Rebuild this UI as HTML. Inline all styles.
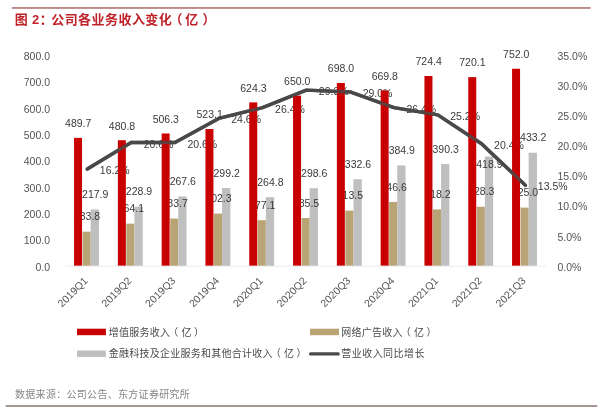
<!DOCTYPE html>
<html lang="zh"><head><meta charset="utf-8"><title>图 2：公司各业务收入变化（亿）</title>
<style>
html,body{margin:0;padding:0;background:#fff;}
body{width:600px;height:413px;overflow:hidden;}
svg{display:block;}
svg text{font-family:"Liberation Sans","Noto Sans CJK SC",sans-serif;}
</style></head><body>
<svg width="600" height="413" viewBox="0 0 600 413">
<rect width="600" height="413" fill="#ffffff"/>
<defs><filter id="soft" x="0" y="0" width="600" height="413" filterUnits="userSpaceOnUse"><feGaussianBlur stdDeviation="0.4"/></filter></defs>
<g filter="url(#soft)">
<rect width="600" height="413" fill="#ffffff"/>
<rect x="11.8" y="7.1" width="578.8" height="1.7" fill="#b47c7c"/>
<rect x="5.6" y="405.1" width="591.6" height="1.8" fill="#a08a86"/>
<text y="24.2" font-size="13" letter-spacing="0.33" font-weight="bold" fill="#c0242c"><tspan x="14.8">图 2：</tspan><tspan x="51.2" letter-spacing="0.45">公司各业务收入变化</tspan><tspan x="169.5">（</tspan><tspan x="185.3">亿</tspan><tspan x="202.5">）</tspan></text>
<text x="50" y="270.70" text-anchor="end" font-size="10.5" fill="#545454">0.0</text>
<text x="50" y="244.35" text-anchor="end" font-size="10.5" fill="#545454">100.0</text>
<text x="50" y="218.00" text-anchor="end" font-size="10.5" fill="#545454">200.0</text>
<text x="50" y="191.65" text-anchor="end" font-size="10.5" fill="#545454">300.0</text>
<text x="50" y="165.30" text-anchor="end" font-size="10.5" fill="#545454">400.0</text>
<text x="50" y="138.95" text-anchor="end" font-size="10.5" fill="#545454">500.0</text>
<text x="50" y="112.60" text-anchor="end" font-size="10.5" fill="#545454">600.0</text>
<text x="50" y="86.25" text-anchor="end" font-size="10.5" fill="#545454">700.0</text>
<text x="50" y="59.90" text-anchor="end" font-size="10.5" fill="#545454">800.0</text>
<text x="557.5" y="270.70" font-size="10.5" fill="#545454">0.0%</text>
<text x="557.5" y="240.58" font-size="10.5" fill="#545454">5.0%</text>
<text x="557.5" y="210.47" font-size="10.5" fill="#545454">10.0%</text>
<text x="557.5" y="180.35" font-size="10.5" fill="#545454">15.0%</text>
<text x="557.5" y="150.24" font-size="10.5" fill="#545454">20.0%</text>
<text x="557.5" y="120.12" font-size="10.5" fill="#545454">25.0%</text>
<text x="557.5" y="90.01" font-size="10.5" fill="#545454">30.0%</text>
<text x="557.5" y="59.89" font-size="10.5" fill="#545454">35.0%</text>
<rect x="82.55" y="231.64" width="8.1" height="35.26" fill="#b9a475"/>
<rect x="90.65" y="209.48" width="8.3" height="57.42" fill="#bfbfbf"/>
<rect x="126.35" y="223.66" width="8.1" height="43.24" fill="#b9a475"/>
<rect x="134.45" y="206.58" width="8.3" height="60.32" fill="#bfbfbf"/>
<rect x="170.15" y="218.50" width="8.1" height="48.40" fill="#b9a475"/>
<rect x="178.25" y="196.39" width="8.3" height="70.51" fill="#bfbfbf"/>
<rect x="213.95" y="213.59" width="8.1" height="53.31" fill="#b9a475"/>
<rect x="222.05" y="188.06" width="8.3" height="78.84" fill="#bfbfbf"/>
<rect x="257.75" y="220.23" width="8.1" height="46.67" fill="#b9a475"/>
<rect x="265.85" y="197.13" width="8.3" height="69.77" fill="#bfbfbf"/>
<rect x="301.55" y="218.02" width="8.1" height="48.88" fill="#b9a475"/>
<rect x="309.65" y="188.22" width="8.3" height="78.68" fill="#bfbfbf"/>
<rect x="345.35" y="210.64" width="8.1" height="56.26" fill="#b9a475"/>
<rect x="353.45" y="179.26" width="8.3" height="87.64" fill="#bfbfbf"/>
<rect x="389.15" y="201.92" width="8.1" height="64.98" fill="#b9a475"/>
<rect x="397.25" y="165.48" width="8.3" height="101.42" fill="#bfbfbf"/>
<rect x="432.95" y="209.40" width="8.1" height="57.50" fill="#b9a475"/>
<rect x="441.05" y="164.06" width="8.3" height="102.84" fill="#bfbfbf"/>
<rect x="476.75" y="206.74" width="8.1" height="60.16" fill="#b9a475"/>
<rect x="484.85" y="156.52" width="8.3" height="110.38" fill="#bfbfbf"/>
<rect x="520.55" y="207.61" width="8.1" height="59.29" fill="#b9a475"/>
<rect x="528.65" y="152.75" width="8.3" height="114.15" fill="#bfbfbf"/>
<text x="87.05" y="220.24" text-anchor="middle" font-size="10.5" fill="#3a3a3a">133.8</text>
<text x="95.20" y="198.08" text-anchor="middle" font-size="10.5" fill="#3a3a3a">217.9</text>
<text x="130.85" y="212.26" text-anchor="middle" font-size="10.5" fill="#3a3a3a">164.1</text>
<text x="139.00" y="195.18" text-anchor="middle" font-size="10.5" fill="#3a3a3a">228.9</text>
<text x="174.65" y="207.10" text-anchor="middle" font-size="10.5" fill="#3a3a3a">183.7</text>
<text x="182.80" y="184.99" text-anchor="middle" font-size="10.5" fill="#3a3a3a">267.6</text>
<text x="218.45" y="202.19" text-anchor="middle" font-size="10.5" fill="#3a3a3a">202.3</text>
<text x="226.60" y="176.66" text-anchor="middle" font-size="10.5" fill="#3a3a3a">299.2</text>
<text x="262.25" y="208.83" text-anchor="middle" font-size="10.5" fill="#3a3a3a">177.1</text>
<text x="270.40" y="185.73" text-anchor="middle" font-size="10.5" fill="#3a3a3a">264.8</text>
<text x="306.05" y="206.62" text-anchor="middle" font-size="10.5" fill="#3a3a3a">185.5</text>
<text x="314.20" y="176.82" text-anchor="middle" font-size="10.5" fill="#3a3a3a">298.6</text>
<text x="349.85" y="199.24" text-anchor="middle" font-size="10.5" fill="#3a3a3a">213.5</text>
<text x="358.00" y="167.86" text-anchor="middle" font-size="10.5" fill="#3a3a3a">332.6</text>
<text x="393.65" y="190.52" text-anchor="middle" font-size="10.5" fill="#3a3a3a">246.6</text>
<text x="401.80" y="154.08" text-anchor="middle" font-size="10.5" fill="#3a3a3a">384.9</text>
<text x="437.45" y="198.00" text-anchor="middle" font-size="10.5" fill="#3a3a3a">218.2</text>
<text x="445.60" y="152.66" text-anchor="middle" font-size="10.5" fill="#3a3a3a">390.3</text>
<text x="481.25" y="195.34" text-anchor="middle" font-size="10.5" fill="#3a3a3a">228.3</text>
<text x="489.40" y="167.60" text-anchor="middle" font-size="10.5" fill="#3a3a3a">418.9</text>
<text x="525.05" y="196.21" text-anchor="middle" font-size="10.5" fill="#3a3a3a">225.0</text>
<text x="533.20" y="141.35" text-anchor="middle" font-size="10.5" fill="#3a3a3a">433.2</text>
<text x="99.85" y="174.03" font-size="10.5" fill="#3a3a3a">16.2%</text>
<text x="143.65" y="147.53" font-size="10.5" fill="#3a3a3a">20.6%</text>
<text x="187.45" y="147.53" font-size="10.5" fill="#3a3a3a">20.6%</text>
<text x="231.25" y="123.43" font-size="10.5" fill="#3a3a3a">24.6%</text>
<text x="275.05" y="112.59" font-size="10.5" fill="#3a3a3a">26.4%</text>
<text x="318.85" y="95.13" font-size="10.5" fill="#3a3a3a">29.3%</text>
<text x="362.65" y="96.93" font-size="10.5" fill="#3a3a3a">29.0%</text>
<text x="406.45" y="112.59" font-size="10.5" fill="#3a3a3a">26.4%</text>
<text x="450.25" y="119.82" font-size="10.5" fill="#3a3a3a">25.2%</text>
<text x="494.05" y="148.73" font-size="10.5" fill="#3a3a3a">20.4%</text>
<text x="537.85" y="190.29" font-size="10.5" fill="#3a3a3a">13.5%</text>
<polyline fill="none" stroke="#4a4a4a" stroke-width="3.4" stroke-linecap="round" stroke-linejoin="round" points="87.35,169.03 131.15,142.53 174.95,142.53 218.75,118.43 262.55,107.59 306.35,90.13 350.15,91.93 393.95,107.59 437.75,114.82 481.55,143.73 525.35,185.29"/>
<rect x="74.05" y="137.86" width="8" height="129.04" fill="#c80000"/>
<rect x="117.85" y="140.21" width="8" height="126.69" fill="#c80000"/>
<rect x="161.65" y="133.49" width="8" height="133.41" fill="#c80000"/>
<rect x="205.45" y="129.06" width="8" height="137.84" fill="#c80000"/>
<rect x="249.25" y="102.40" width="8" height="164.50" fill="#c80000"/>
<rect x="293.05" y="95.62" width="8" height="171.28" fill="#c80000"/>
<rect x="336.85" y="82.98" width="8" height="183.92" fill="#c80000"/>
<rect x="380.65" y="90.41" width="8" height="176.49" fill="#c80000"/>
<rect x="424.45" y="76.02" width="8" height="190.88" fill="#c80000"/>
<rect x="468.25" y="77.15" width="8" height="189.75" fill="#c80000"/>
<rect x="512.05" y="68.75" width="8" height="198.15" fill="#c80000"/>
<polyline fill="none" stroke="#4a4a4a" stroke-opacity="0.8" stroke-width="3.4" stroke-linecap="round" stroke-linejoin="round" points="87.35,169.03 131.15,142.53 174.95,142.53 218.75,118.43 262.55,107.59 306.35,90.13 350.15,91.93 393.95,107.59 437.75,114.82 481.55,143.73 525.35,185.29"/>
<rect x="60" y="265.9" width="492" height="2" fill="#ffffff"/>
<rect x="65.45" y="265.7" width="480.79999999999995" height="0.8" fill="#e6e4ea"/>
<text x="78.20" y="127.16" text-anchor="middle" font-size="10.5" fill="#3a3a3a">489.7</text>
<text x="122.00" y="129.51" text-anchor="middle" font-size="10.5" fill="#3a3a3a">480.8</text>
<text x="165.80" y="122.79" text-anchor="middle" font-size="10.5" fill="#3a3a3a">506.3</text>
<text x="209.60" y="118.36" text-anchor="middle" font-size="10.5" fill="#3a3a3a">523.1</text>
<text x="253.40" y="91.70" text-anchor="middle" font-size="10.5" fill="#3a3a3a">624.3</text>
<text x="297.20" y="84.92" text-anchor="middle" font-size="10.5" fill="#3a3a3a">650.0</text>
<text x="341.00" y="72.28" text-anchor="middle" font-size="10.5" fill="#3a3a3a">698.0</text>
<text x="384.80" y="79.71" text-anchor="middle" font-size="10.5" fill="#3a3a3a">669.8</text>
<text x="428.60" y="65.32" text-anchor="middle" font-size="10.5" fill="#3a3a3a">724.4</text>
<text x="472.40" y="66.45" text-anchor="middle" font-size="10.5" fill="#3a3a3a">720.1</text>
<text x="516.20" y="58.05" text-anchor="middle" font-size="10.5" fill="#3a3a3a">752.0</text>
<text transform="translate(88.45,281.4) rotate(-45)" text-anchor="end" font-size="10.5" fill="#545454">2019Q1</text>
<text transform="translate(132.25,281.4) rotate(-45)" text-anchor="end" font-size="10.5" fill="#545454">2019Q2</text>
<text transform="translate(176.05,281.4) rotate(-45)" text-anchor="end" font-size="10.5" fill="#545454">2019Q3</text>
<text transform="translate(219.85,281.4) rotate(-45)" text-anchor="end" font-size="10.5" fill="#545454">2019Q4</text>
<text transform="translate(263.65,281.4) rotate(-45)" text-anchor="end" font-size="10.5" fill="#545454">2020Q1</text>
<text transform="translate(307.45,281.4) rotate(-45)" text-anchor="end" font-size="10.5" fill="#545454">2020Q2</text>
<text transform="translate(351.25,281.4) rotate(-45)" text-anchor="end" font-size="10.5" fill="#545454">2020Q3</text>
<text transform="translate(395.05,281.4) rotate(-45)" text-anchor="end" font-size="10.5" fill="#545454">2020Q4</text>
<text transform="translate(438.85,281.4) rotate(-45)" text-anchor="end" font-size="10.5" fill="#545454">2021Q1</text>
<text transform="translate(482.65,281.4) rotate(-45)" text-anchor="end" font-size="10.5" fill="#545454">2021Q2</text>
<text transform="translate(526.45,281.4) rotate(-45)" text-anchor="end" font-size="10.5" fill="#545454">2021Q3</text>
<rect x="77" y="328.7" width="28.9" height="6.5" fill="#c80000"/>
<text y="335.8" font-size="10" letter-spacing="0.25" fill="#4a4a4a"><tspan x="108.8">增值服务收入</tspan><tspan x="168.20">（</tspan><tspan x="181.50">亿</tspan><tspan x="194.00">）</tspan></text>
<rect x="77" y="350.5" width="28.9" height="6.4" fill="#bfbfbf"/>
<text y="357.4" font-size="10" letter-spacing="0.25" fill="#4a4a4a"><tspan x="108.8">金融科技及企业服务和其他合计收入</tspan><tspan x="270.70">（</tspan><tspan x="284.00">亿</tspan><tspan x="296.50">）</tspan></text>
<rect x="310" y="328.7" width="29" height="6.5" fill="#b9a475"/>
<text y="335.8" font-size="10" letter-spacing="0.25" fill="#4a4a4a"><tspan x="341.3">网络广告收入</tspan><tspan x="400.70">（</tspan><tspan x="414.00">亿</tspan><tspan x="426.50">）</tspan></text>
<line x1="310.6" y1="353.9" x2="338.2" y2="353.9" stroke="#4a4a4a" stroke-width="3.3" stroke-linecap="round"/>
<text y="357.4" font-size="10" letter-spacing="0.45" fill="#4a4a4a"><tspan x="341.3">营业收入同比增长</tspan></text>
<text x="15" y="397.8" font-size="10" letter-spacing="0.3" fill="#868686">数据来源：公司公告、东方证券研究所</text>
</g>
</svg>
</body></html>
